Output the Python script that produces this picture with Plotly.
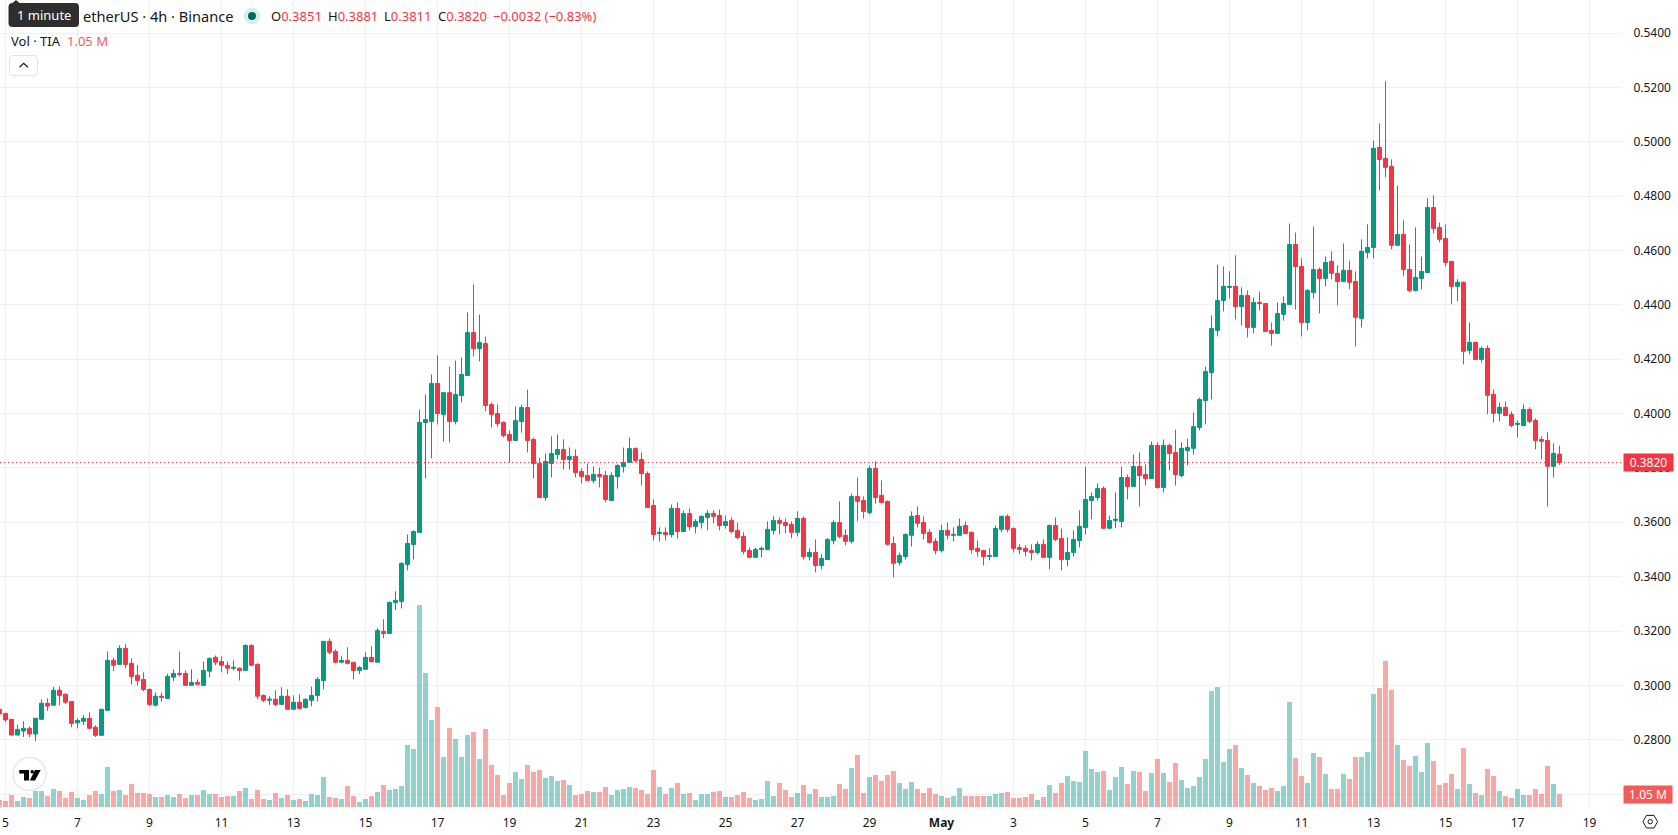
import pandas as pd
import plotly.graph_objects as go

# 4-hour TIA/USDT candles, oldest first
open_prices = [
    .2912,.2897,.2875,.2817,.2832,.2842,.2821,.2875,.2934,.2927,
    .2982,.2967,.2941,.2862,.2868,.2879,.2846,.2816,.2908,.3092,
    .3077,.3136,.3081,.3037,.3022,.2985,.2927,.2960,.2952,.3030,
    .3044,.3044,.3000,.3011,.3000,.3052,.3103,.3088,.3074,.3063,
    .3063,.3055,.3147,.3077,.2963,.2945,.2949,.2930,.2960,.2912,
    .2938,.2919,.2945,.2963,.3018,.3162,.3125,.3085,.3092,.3085,
    .3055,.3059,.3103,.3085,.3199,.3191,.3305,.3309,.3445,.3518,
    .3562,.3967,.3971,.4111,.3997,.4077,.3971,.4066,.4140,.4298,
    .4239,.4258,.4033,.4000,.3967,.3923,.3901,.3971,.4022,.3905,
    .3816,.3691,.3816,.3849,.3868,.3831,.3842,.3787,.3772,.3754,
    .3776,.3772,.3680,.3768,.3805,.3820,.3871,.3831,.3779,.3662,
    .3559,.3562,.3555,.3651,.3566,.3632,.3585,.3599,.3618,.3633,
    .3625,.3588,.3607,.3570,.3548,.3496,.3471,.3500,.3500,.3570,
    .3607,.3599,.3592,.3563,.3614,.3474,.3489,.3441,.3463,.3533,
    .3599,.3552,.3530,.3695,.3680,.3636,.3798,.3699,.3677,.3522,
    .3452,.3474,.3552,.3625,.3599,.3563,.3530,.3496,.3570,.3552,
    .3552,.3588,.3563,.3504,.3496,.3474,.3474,.3574,.3622,.3577,
    .3507,.3504,.3496,.3489,.3519,.3471,.3588,.3541,.3463,.3489,
    .3533,.3581,.3680,.3691,.3724,.3578,.3607,.3603,.3765,.3732,
    .3805,.3776,.3761,.3883,.3728,.3883,.3857,.3772,.3864,.3872,
    .3949,.4048,.4151,.4306,.4416,.4464,.4468,.4394,.4434,.4317,
    .4409,.4405,.4306,.4295,.4365,.4401,.4622,.4541,.4335,.4445,
    .4530,.4497,.4560,.4516,.4486,.4527,.4486,.4350,.4593,.4611,
    .4979,.4939,.4909,.4619,.4659,.4530,.4453,.4497,.4519,.4758,
    .4685,.4644,.4560,.4468,.4483,.4232,.4262,.4199,.4240,.4071,
    .4001,.4023,.3997,.3960,.3956,.4015,.3975,.3905,.3901,.3806,.3851,
]
high_prices = [
    .2915,.2897,.2875,.2855,.2868,.2849,.2879,.2949,.2952,.2995,
    .2996,.2971,.2941,.2879,.2890,.2901,.2853,.2912,.3125,.3102,
    .3147,.3151,.3099,.3074,.3048,.2989,.2974,.2974,.3043,.3059,
    .3125,.3055,.3059,.3022,.3088,.3103,.3110,.3107,.3088,.3092,
    .3066,.3151,.3151,.3081,.2967,.2960,.2982,.2993,.2985,.2963,
    .2967,.2952,.2996,.3030,.3162,.3173,.3133,.3107,.3140,.3085,
    .3070,.3122,.3144,.3210,.3243,.3309,.3346,.3452,.3555,.3570,
    .4015,.4070,.4144,.4214,.4077,.4173,.4195,.4206,.4372,.4475,
    .4364,.4283,.4041,.4033,.3971,.3938,.4026,.4033,.4088,.3912,
    .3838,.3853,.3916,.3923,.3905,.3875,.3868,.3798,.3816,.3805,
    .3801,.3790,.3783,.3813,.3875,.3912,.3875,.3857,.3787,.3684,
    .3581,.3581,.3665,.3673,.3643,.3651,.3611,.3625,.3644,.3644,
    .3647,.3625,.3618,.3599,.3563,.3507,.3507,.3511,.3603,.3622,
    .3618,.3614,.3603,.3640,.3622,.3504,.3537,.3482,.3541,.3607,
    .3677,.3574,.3706,.3765,.3695,.3809,.3824,.3754,.3680,.3548,
    .3489,.3559,.3640,.3658,.3622,.3574,.3541,.3592,.3599,.3581,
    .3614,.3603,.3566,.3533,.3496,.3504,.3588,.3625,.3629,.3581,
    .3519,.3515,.3519,.3530,.3537,.3592,.3618,.3577,.3544,.3570,
    .3644,.3805,.3710,.3743,.3732,.3625,.3710,.3805,.3776,.3849,
    .3857,.3813,.3897,.3894,.3905,.3890,.3941,.3894,.3908,.4004,
    .4059,.4173,.4361,.4548,.4541,.4523,.4582,.4464,.4453,.4427,
    .4449,.4405,.4335,.4409,.4431,.4699,.4666,.4571,.4457,.4688,
    .4537,.4578,.4597,.4545,.4626,.4563,.4523,.4641,.4696,.5005,
    .5068,.5222,.4935,.4839,.4711,.4622,.4685,.4578,.4792,.4803,
    .4703,.4696,.4560,.4494,.4486,.4335,.4265,.4247,.4251,.4089,
    .4041,.4045,.4008,.3975,.4034,.4023,.3982,.3916,.3931,.3890,.3881,
]
low_prices = [
    .2890,.2865,.2817,.2817,.2810,.2810,.2795,.2875,.2906,.2927,
    .2927,.2932,.2846,.2842,.2854,.2838,.2810,.2816,.2908,.3052,
    .3077,.3063,.3004,.3000,.2978,.2923,.2923,.2941,.2952,.3015,
    .3033,.3000,.3000,.3000,.3000,.3030,.3074,.3048,.3041,.3055,
    .3018,.3055,.3070,.2949,.2938,.2927,.2923,.2930,.2912,.2912,
    .2912,.2915,.2923,.2941,.2985,.3114,.3081,.3081,.3077,.3022,
    .3041,.3059,.3085,.3085,.3173,.3188,.3276,.3283,.3423,.3463,
    .3562,.3761,.3835,.3960,.3897,.3893,.3960,.4041,.4140,.4210,
    .4192,.4008,.3949,.3952,.3912,.3820,.3901,.3930,.3857,.3761,
    .3691,.3680,.3765,.3831,.3794,.3794,.3765,.3743,.3754,.3743,
    .3728,.3673,.3680,.3724,.3783,.3820,.3820,.3735,.3654,.3533,
    .3529,.3533,.3544,.3540,.3566,.3570,.3559,.3577,.3570,.3596,
    .3570,.3577,.3559,.3537,.3482,.3467,.3471,.3471,.3500,.3555,
    .3555,.3559,.3541,.3548,.3463,.3460,.3416,.3427,.3463,.3519,
    .3541,.3515,.3522,.3603,.3614,.3629,.3669,.3669,.3515,.3397,
    .3441,.3463,.3511,.3581,.3537,.3522,.3482,.3489,.3537,.3530,
    .3552,.3555,.3485,.3474,.3441,.3460,.3474,.3563,.3563,.3489,
    .3482,.3474,.3460,.3482,.3471,.3427,.3530,.3423,.3438,.3474,
    .3507,.3555,.3611,.3680,.3574,.3574,.3578,.3581,.3684,.3732,
    .3658,.3735,.3761,.3724,.3710,.3791,.3735,.3765,.3809,.3849,
    .3938,.3960,.4052,.4284,.4376,.4423,.4346,.4324,.4280,.4295,
    .4379,.4302,.4250,.4295,.4342,.4401,.4383,.4284,.4306,.4423,
    .4368,.4468,.4494,.4398,.4486,.4457,.4247,.4317,.4571,.4571,
    .4821,.4869,.4604,.4619,.4505,.4446,.4449,.4457,.4519,.4663,
    .4630,.4541,.4402,.4413,.4181,.4218,.4199,.4188,.3997,.3967,
    .3971,.3990,.3949,.3912,.3956,.3964,.3868,.3831,.3658,.3765,.3811,
]
close_prices = [
    .2895,.2873,.2817,.2838,.2842,.2821,.2879,.2934,.2924,.2982,
    .2963,.2938,.2860,.2871,.2879,.2842,.2816,.2912,.3092,.3074,
    .3136,.3077,.3033,.3018,.2985,.2930,.2960,.2956,.3033,.3044,
    .3041,.3000,.3011,.3004,.3055,.3099,.3085,.3074,.3063,.3066,
    .3055,.3147,.3074,.2960,.2945,.2949,.2930,.2960,.2912,.2938,
    .2915,.2949,.2963,.3022,.3162,.3122,.3085,.3092,.3081,.3055,
    .3066,.3103,.3087,.3202,.3191,.3305,.3313,.3449,.3522,.3566,
    .3967,.3978,.4111,.4000,.4077,.3971,.4070,.4144,.4298,.4239,
    .4261,.4030,.3997,.3963,.3919,.3901,.3974,.4022,.3901,.3816,
    .3691,.3824,.3853,.3868,.3831,.3842,.3783,.3768,.3754,.3776,
    .3768,.3684,.3772,.3809,.3820,.3871,.3827,.3779,.3654,.3555,
    .3562,.3555,.3651,.3566,.3632,.3584,.3603,.3622,.3633,.3622,
    .3588,.3603,.3566,.3544,.3493,.3471,.3500,.3504,.3574,.3607,
    .3596,.3588,.3563,.3614,.3474,.3489,.3441,.3467,.3537,.3599,
    .3548,.3530,.3695,.3677,.3640,.3798,.3691,.3673,.3519,.3449,
    .3478,.3555,.3622,.3596,.3559,.3526,.3496,.3570,.3552,.3555,
    .3585,.3559,.3500,.3493,.3474,.3478,.3577,.3622,.3574,.3504,
    .3500,.3493,.3489,.3519,.3471,.3588,.3537,.3463,.3489,.3537,
    .3585,.3684,.3695,.3724,.3578,.3607,.3611,.3765,.3732,.3805,
    .3772,.3761,.3883,.3728,.3883,.3853,.3776,.3872,.3875,.3952,
    .4052,.4155,.4313,.4416,.4468,.4468,.4394,.4434,.4317,.4409,
    .4405,.4302,.4295,.4368,.4405,.4622,.4541,.4335,.4453,.4530,
    .4497,.4556,.4516,.4486,.4527,.4483,.4354,.4597,.4611,.4976,
    .4935,.4906,.4619,.4659,.4530,.4453,.4501,.4523,.4758,.4681,
    .4641,.4556,.4468,.4483,.4229,.4262,.4199,.4240,.4067,.4001,
    .4023,.3993,.3956,.3964,.4015,.3971,.3901,.3898,.3806,.3853,.3820,
]
# Traded volume per candle, in millions of TIA
volumes = [
    .58,.50,.99,.50,.83,.75,1.33,1.33,.91,1.49,
    1.33,.75,1.24,.75,.58,.99,1.33,1.08,3.31,1.33,
    1.41,.99,1.91,1.16,1.16,1.08,.83,.83,.99,.83,
    1.08,.75,.99,.99,1.41,1.08,1.08,.83,.91,.91,
    1.33,1.57,.66,1.41,.66,.58,1.16,.75,.99,.58,
    .66,.50,1.08,.99,2.49,.83,.75,.66,1.74,.91,
    .41,.66,.91,1.24,1.82,1.41,1.49,1.74,5.14,4.81,
    16.74,11.1,7.21,8.29,4.14,6.55,5.64,4.14,5.97,6.22,
    3.98,6.46,3.48,2.65,.99,1.99,2.90,2.32,3.48,2.90,
    3.07,2.40,2.57,2.15,2.24,1.82,.99,1.08,1.33,1.24,
    1.24,1.66,.99,1.41,1.49,1.66,1.57,1.41,1.08,3.07,
    1.66,1.08,1.57,1.99,1.08,1.16,.58,1.08,1.08,1.24,
    1.33,.83,.83,.99,1.24,.75,.58,.66,2.15,.91,
    1.99,1.41,.83,1.16,1.82,1.08,1.49,.83,.83,.91,
    1.91,1.49,3.23,4.31,1.16,2.49,2.65,2.15,2.65,2.98,
    1.99,1.46,2.04,1.46,1.13,1.55,1.05,.88,.72,.88,
    1.55,.88,.88,.88,.88,.88,1.05,1.13,1.22,.72,
    .72,.80,1.05,.55,.80,1.80,1.13,1.96,2.54,2.13,
    2.04,4.61,3.12,2.87,2.96,1.38,2.46,3.29,1.88,2.96,
    2.87,1.30,2.79,3.95,2.79,2.04,3.62,2.21,1.55,1.71,
    2.46,3.95,9.59,9.92,3.70,4.78,5.11,3.20,2.62,1.96,
    1.71,1.38,1.55,1.30,1.71,8.67,4.03,2.54,1.96,4.45,
    4.12,2.71,1.46,1.46,2.71,2.29,4.12,4.12,4.53,9.34,
    9.83,12.07,9.67,5.11,3.87,3.37,4.20,2.87,5.28,3.78,
    1.80,1.96,2.71,1.46,4.86,1.88,1.13,.97,3.12,2.54,
    1.30,.88,.72,1.46,.97,.97,1.46,1.05,3.37,1.88,1.05,
]
tick_dates = ["2024-04-05","2024-04-07","2024-04-09","2024-04-11","2024-04-13",
              "2024-04-15","2024-04-17","2024-04-19","2024-04-21","2024-04-23",
              "2024-04-25","2024-04-27","2024-04-29","2024-05-01","2024-05-03",
              "2024-05-05","2024-05-07","2024-05-09","2024-05-11","2024-05-13",
              "2024-05-15","2024-05-17","2024-05-19"]
tick_labels = ["5","7","9","11","13","15","17","19","21","23","25","27","29",
               "<b>May</b>","3","5","7","9","11","13","15","17","19"]
price_ticks = [.26,.28,.30,.32,.34,.36,.38,.40,.42,.44,.46,.48,.50,.52,.54]
# The lowest grid level sits behind the volume tag, so it carries no label
price_tick_labels = ["","0.2800","0.3000","0.3200","0.3400","0.3600","0.3800","0.4000",
                     "0.4200","0.4400","0.4600","0.4800","0.5000","0.5200","0.5400"]

times = pd.date_range("2024-04-04 20:00", periods=len(close_prices), freq="4h")

GREEN, RED = "#089981", "#f23645"
TEXT = "#131722"
GRID = "rgba(42,46,57,0.065)"
FONT = "Noto Sans"

# Plot area in pixels; one candle slot is 6 px wide
PLOT_W, PLOT_H = 1622, 807
SLOT = pd.Timedelta(hours=4)
first_day = pd.Timestamp("2024-04-05")
x_start = first_day - SLOT * (5.5 / 6)
x_end = x_start + SLOT * (PLOT_W / 6)

PX_PER_UNIT = 54.36 / 0.02
y_top = 0.52 + 87.4 / PX_PER_UNIT
y_bottom = y_top - PLOT_H / PX_PER_UNIT
VOL_PX_PER_M = 12.07


def X(px):
    return px / PLOT_W


def Y(py):
    return 1 - py / PLOT_H


def pixel_path(points, closed=True):
    parts = [f"{'M' if i == 0 else 'L'}{X(a):.6f},{Y(b):.6f}" for i, (a, b) in enumerate(points)]
    return " ".join(parts) + (" Z" if closed else "")


def rounded_rect(x0, y0, x1, y1, r):
    return (f"M{X(x0 + r):.6f},{Y(y0):.6f} L{X(x1 - r):.6f},{Y(y0):.6f} "
            f"Q{X(x1):.6f},{Y(y0):.6f} {X(x1):.6f},{Y(y0 + r):.6f} "
            f"L{X(x1):.6f},{Y(y1 - r):.6f} Q{X(x1):.6f},{Y(y1):.6f} {X(x1 - r):.6f},{Y(y1):.6f} "
            f"L{X(x0 + r):.6f},{Y(y1):.6f} Q{X(x0):.6f},{Y(y1):.6f} {X(x0):.6f},{Y(y1 - r):.6f} "
            f"L{X(x0):.6f},{Y(y0 + r):.6f} Q{X(x0):.6f},{Y(y0):.6f} {X(x0 + r):.6f},{Y(y0):.6f} Z")


def paper_shape(**kw):
    return dict(xref="paper", yref="paper", layer="above", **kw)


def circle(cx, cy, r, fill, line=None, width=0):
    return paper_shape(type="circle", x0=X(cx - r), x1=X(cx + r), y0=Y(cy + r), y1=Y(cy - r),
                       fillcolor=fill, line=dict(color=line or fill, width=width))


def label(px, py, text, size=13, color=TEXT, anchor="left"):
    return dict(xref="paper", yref="paper", x=X(px), y=Y(py), text=text, showarrow=False,
                xanchor=anchor, yanchor="middle", borderpad=0,
                font=dict(family=FONT, size=size, color=color))


volume_colors = ["rgba(38,166,154,0.5)" if c >= o else "rgba(239,83,80,0.5)"
                 for o, c in zip(open_prices, close_prices)]

fig = go.Figure()
fig.add_trace(go.Bar(
    x=times, y=volumes, yaxis="y2", marker=dict(color=volume_colors, line=dict(width=0)),
    width=SLOT.total_seconds() * 1000 * 5 / 6, showlegend=False, hoverinfo="skip",
))
fig.add_trace(go.Candlestick(
    x=times, open=open_prices, high=high_prices, low=low_prices, close=close_prices,
    increasing=dict(line=dict(color=GREEN, width=1), fillcolor=GREEN),
    decreasing=dict(line=dict(color=RED, width=1), fillcolor=RED),
    whiskerwidth=0, showlegend=False,
))

shapes = [
    # last-price line
    dict(type="line", xref="paper", yref="y", x0=0, x1=1, y0=close_prices[-1], y1=close_prices[-1],
         layer="above", line=dict(color=RED, width=1, dash="1px,3px")),
    # tooltip over the symbol title
    paper_shape(type="path", path=rounded_rect(8.5, 3, 79, 27, 4),
                fillcolor="#2e2e2e", line=dict(width=0)),
    paper_shape(type="path", path=pixel_path([(12.5, 3), (16, 0), (19.5, 3)]),
                fillcolor="#2e2e2e", line=dict(width=0)),
    # market status dot
    circle(252, 16, 8.5, "#d9efeb"),
    circle(252, 16, 4, "#006b5b"),
    # legend collapse button
    paper_shape(type="path", path=rounded_rect(9.5, 55.5, 37.5, 75.5, 3),
                fillcolor="#ffffff", line=dict(color="#e0e3eb", width=1)),
    paper_shape(type="path", path=pixel_path([(19.5, 67.2), (23.7, 63.4), (27.9, 67.2)], closed=False),
                line=dict(color=TEXT, width=1.2)),
    # watermark badge
    circle(29.5, 774, 16.5, "#ffffff", "#e8e8e8", 1.5),
    paper_shape(type="path", path=pixel_path([(19.3, 770), (29, 770), (29, 780.5), (24, 780.5),
                                              (24, 773.6), (19.3, 773.6)]),
                fillcolor="#000000", line=dict(width=0)),
    circle(32.2, 771.7, 1.8, "#000000"),
    paper_shape(type="path", path=pixel_path([(35, 770), (40.7, 770), (35, 780.5), (29.8, 780.5)]),
                fillcolor="#000000", line=dict(width=0)),
    # settings gear
    paper_shape(type="path", path=pixel_path([(1642.9, 821.7), (1646.5, 815.4), (1654, 815.4),
                                              (1657.6, 821.7), (1654, 828), (1646.5, 828)]),
                line=dict(color=TEXT, width=1)),
    circle(1650.2, 821.7, 2.2, "#ffffff", TEXT, 1),
]

annotations = [
    label(235, 16, "etherUS · 4h · Binance", size=14.6, anchor="right"),
    label(43.7, 15.5, "1 minute", size=13, color="#ffffff", anchor="center"),
    label(269.7, 16, f"O<span style='color:{RED}'>{open_prices[-1]:.4f}</span>"),
    label(327, 16, f"H<span style='color:{RED}'>{high_prices[-1]:.4f}</span>"),
    label(382.8, 16, f"L<span style='color:{RED}'>{low_prices[-1]:.4f}</span>"),
    label(436.5, 16, f"C<span style='color:{RED}'>{close_prices[-1]:.4f}</span>"),
    label(492, 16, "−0.0032 (−0.83%)", color=RED),
    label(9.5, 41, "Vol · TIA"),
    label(65.6, 41, "1.05 M", color="#f25c5c"),
    # value tags on the price scale
    dict(xref="paper", yref="y", x=1, xshift=1, y=close_prices[-1], xanchor="left", yanchor="middle",
         text=f"{close_prices[-1]:.4f}", showarrow=False, bgcolor=RED, width=49, height=17,
         borderpad=0, font=dict(family=FONT, size=12, color="#ffffff")),
    dict(xref="paper", yref="y2", x=1, xshift=1, y=volumes[-1], xanchor="left", yanchor="middle",
         text="1.05 M", showarrow=False, bgcolor="#f15b58", width=48, height=17,
         borderpad=0, font=dict(family=FONT, size=12, color="#ffffff")),
]

fig.update_layout(
    width=1678, height=835,
    margin=dict(l=0, r=56, t=0, b=28, pad=0),
    paper_bgcolor="#ffffff", plot_bgcolor="#ffffff",
    font=dict(family=FONT, size=12, color=TEXT),
    boxgap=1 / 3, boxgroupgap=0, bargap=0, showlegend=False,
    xaxis=dict(
        type="date", range=[x_start, x_end], rangeslider=dict(visible=False),
        tickmode="array", tickvals=tick_dates, ticktext=tick_labels, tickangle=0,
        showgrid=True, gridcolor=GRID, gridwidth=1, zeroline=False, showline=False,
        ticks="outside", ticklen=5, tickcolor="rgba(0,0,0,0)",
        tickfont=dict(family=FONT, size=12, color=TEXT),
    ),
    yaxis=dict(
        side="right", range=[y_bottom, y_top], tickmode="array", tickvals=price_ticks,
        ticktext=price_tick_labels, showgrid=True, gridcolor=GRID, gridwidth=1, zeroline=False,
        showline=False, ticks="outside", ticklen=8, tickcolor="rgba(0,0,0,0)",
        tickfont=dict(family=FONT, size=12, color=TEXT),
    ),
    yaxis2=dict(
        overlaying="y", range=[0, PLOT_H / VOL_PX_PER_M], visible=False, showgrid=False,
        zeroline=False,
    ),
    shapes=shapes, annotations=annotations,
)

fig.write_html("out.html", config=dict(displayModeBar=False))
